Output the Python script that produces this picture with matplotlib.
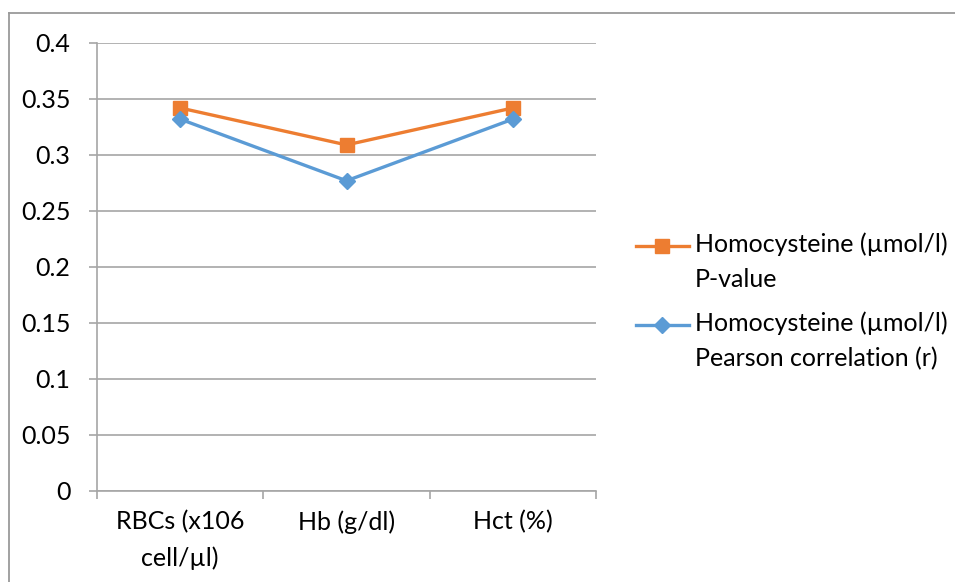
import matplotlib.pyplot as plt
from matplotlib.lines import Line2D

categories = ["RBCs (x106\ncell/\u00b5l)", "Hb (g/dl)", "Hct (%)"]
p_value = [0.342, 0.309, 0.342]
pearson_r = [0.332, 0.277, 0.332]
yticks = [0, 0.05, 0.1, 0.15, 0.2, 0.25, 0.3, 0.35, 0.4]
ytick_labels = ["0", "0.05", "0.1", "0.15", "0.2", "0.25", "0.3", "0.35", "0.4"]
series_names = ["Homocysteine (\u00b5mol/l)\nP-value",
                "Homocysteine (\u00b5mol/l)\nPearson correlation (r)"]

orange = "#ED7D31"
blue = "#5B9BD5"
grid = "#A6A6A6"
fs = 18

plt.rcParams['font.family'] = ['Lato', 'DejaVu Sans']

fig = plt.figure(figsize=(9.55, 5.82), dpi=100)
# chart frame line (top and left edges)
fig.add_artist(Line2D([9 / 955, 1.0], [1 - 13 / 582, 1 - 13 / 582], color="#9a9a9a", lw=1.3))
fig.add_artist(Line2D([9 / 955, 9 / 955], [0, 1 - 13 / 582], color="#9a9a9a", lw=1.3))

ax = fig.add_axes([97 / 955, 1 - 491 / 582, (596 - 97) / 955, (491 - 43) / 582])
x = range(len(categories))
l1, = ax.plot(x, p_value, color=orange, lw=2.4, marker="s", ms=10)
l2, = ax.plot(x, pearson_r, color=blue, lw=2.4, marker="D", ms=8)

ax.set_xlim(-0.5, 2.5)
ax.set_ylim(0, 0.4)
ax.set_yticks(yticks)
ax.set_yticklabels(ytick_labels)
ax.set_xticks([0, 1, 2])
ax.set_xticklabels(categories, linespacing=1.65)
ax.set_xticks([-0.5, 0.5, 1.5, 2.5], minor=True)
ax.tick_params(axis="x", which="major", length=0, pad=14, labelsize=fs)
ax.tick_params(axis="x", which="minor", length=6, color=grid, width=1.2)
ax.tick_params(axis="y", length=6, color=grid, width=1.2, pad=13, labelsize=fs)
ax.yaxis.grid(True, color=grid, lw=1.2)
ax.set_axisbelow(True)
for s in ["top", "right"]:
    ax.spines[s].set_visible(False)
for s in ["left", "bottom"]:
    ax.spines[s].set_color(grid)
    ax.spines[s].set_linewidth(1.2)

# legend: handle sits beside the first line of each two-line entry
for line, name, ytop in [(l1, series_names[0], 246), (l2, series_names[1], 325)]:
    yf = 1 - ytop / 582
    fig.add_artist(Line2D([636 / 955, 689 / 955], [yf, yf], color=line.get_color(),
                          lw=line.get_linewidth()))
    fig.add_artist(Line2D([662 / 955], [yf], color=line.get_color(),
                          marker=line.get_marker(), ms=line.get_markersize()))
    fig.text(695 / 955, yf + 14 / 582, name, fontsize=fs, va="top", ha="left",
             linespacing=1.65)

fig.savefig("out.png", dpi=100, facecolor="white")
